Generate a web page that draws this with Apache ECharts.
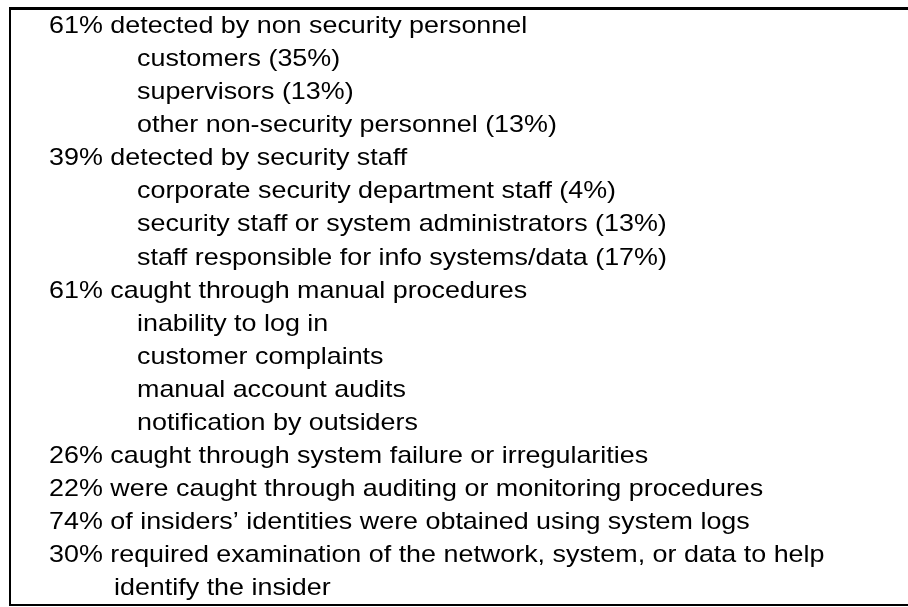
<!DOCTYPE html>
<html>
<head>
<meta charset="utf-8">
<script src="https://cdn.jsdelivr.net/npm/echarts@6/dist/echarts.min.js"></script>
<style>
  html, body { margin: 0; padding: 0; background: #fff; }
  #main { width: 908px; height: 607px; }
</style>
</head>
<body>
<div id="main"></div>
<script>
// lines of the box, with indent level (0 = headline, 1 = sub item, 2 = wrapped line)
var lines = [
  '61% detected by non security personnel',
  'customers (35%)',
  'supervisors (13%)',
  'other non-security personnel (13%)',
  '39% detected by security staff',
  'corporate security department staff (4%)',
  'security staff or system administrators (13%)',
  'staff responsible for info systems/data (17%)',
  '61% caught through manual procedures',
  'inability to log in',
  'customer complaints',
  'manual account audits',
  'notification by outsiders',
  '26% caught through system failure or irregularities',
  '22% were caught through auditing or monitoring procedures',
  '74% of insiders\u2019 identities were obtained using system logs',
  '30% required examination of the network, system, or data to help',
  'identify the insider'
];
var levels = [0, 1, 1, 1, 0, 1, 1, 1, 0, 1, 1, 1, 1, 0, 0, 0, 0, 2];

var chart = echarts.init(document.getElementById('main'));

var indentX = [49, 137, 114];
var baseline0 = 34, step = 33.06;

var elements = lines.map(function (t, i) {
  return {
    type: 'text',
    x: indentX[levels[i]],
    y: baseline0 + i * step - 7.5,
    scaleX: 1.12,
    style: {
      text: t,
      fill: '#000',
      verticalAlign: 'middle',
      font: '24px "Liberation Sans", Arial, sans-serif'
    }
  };
});

// box border: left, top, bottom
elements.push({
  type: 'line', shape: { x1: 10, y1: 7, x2: 10, y2: 606 },
  style: { stroke: '#000', lineWidth: 2 }
});
elements.push({
  type: 'line', shape: { x1: 9, y1: 8.5, x2: 908, y2: 8.5 },
  style: { stroke: '#000', lineWidth: 3 }
});
elements.push({
  type: 'line', shape: { x1: 9, y1: 605, x2: 908, y2: 605 },
  style: { stroke: '#000', lineWidth: 2 }
});

chart.setOption({
  backgroundColor: '#fff',
  animation: false,
  graphic: { elements: elements }
});
</script>
</body>
</html>
